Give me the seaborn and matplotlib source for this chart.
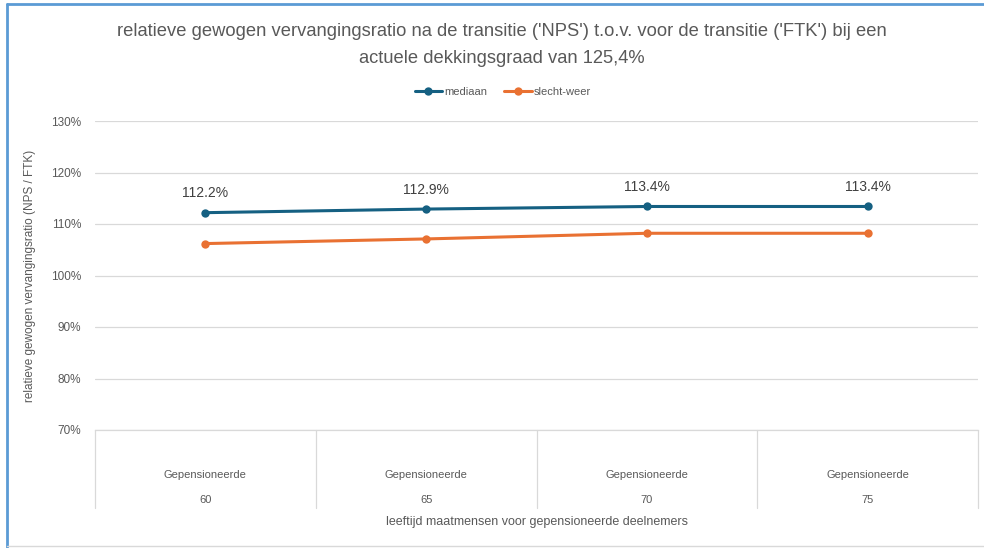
import matplotlib
matplotlib.use('Agg')
import matplotlib.pyplot as plt
import matplotlib.transforms as mtransforms
from matplotlib.lines import Line2D
from matplotlib.ticker import FuncFormatter
import numpy as np
import pandas as pd
import seaborn as sns

# ── data ──────────────────────────────────────────────────────────────────────
groups     = ['Gepensioneerde', 'Gepensioneerde', 'Gepensioneerde', 'Gepensioneerde']
ages       = ['60', '65', '70', '75']
mediaan    = [112.2, 112.9, 113.4, 113.4]
slecht     = [106.2, 107.1, 108.2, 108.2]
series     = ['mediaan', 'slecht-weer']
y_ticks    = [70, 80, 90, 100, 110, 120, 130]

TITLE  = ("relatieve gewogen vervangingsratio na de transitie ('NPS') t.o.v. voor de transitie ('FTK') bij een\n"
          "actuele dekkingsgraad van 125,4%")
YLABEL = 'relatieve gewogen vervangingsratio (NPS / FTK)'
XLABEL = 'leeftijd maatmensen voor gepensioneerde deelnemers'

COLORS = {'mediaan': '#156082', 'slecht-weer': '#E97132'}
GREY_TXT = '#595959'
GRID = '#d9d9d9'

df = pd.DataFrame({
    'pos':   list(range(len(ages))) * 2,
    'value': mediaan + slecht,
    'serie': [series[0]] * len(ages) + [series[1]] * len(ages),
})

sns.set_theme(style='white')
plt.rcParams['font.family'] = ['Liberation Sans', 'DejaVu Sans']

fig = plt.figure(figsize=(9.84, 5.48), dpi=100)
ax = fig.add_axes([95 / 984, 118 / 548, 883 / 984, 309 / 548])

sns.lineplot(data=df, x='pos', y='value', hue='serie', palette=COLORS,
             marker='o', markersize=6, markeredgewidth=0, linewidth=2.2,
             ax=ax, legend=False)

ax.set_xlim(-0.5, len(ages) - 0.5)
ax.set_ylim(y_ticks[0], y_ticks[-1])
ax.set_yticks(y_ticks)
ax.yaxis.set_major_formatter(FuncFormatter(lambda v, _: f'{v:.0f}%'))
ax.tick_params(axis='y', colors=GREY_TXT, labelsize=8.5, length=0, pad=10)
ax.set_xticks([])
ax.set_xlabel('')
ax.set_ylabel(YLABEL, color=GREY_TXT, fontsize=8.5, labelpad=11)
ax.grid(axis='y', color=GRID, linewidth=0.9)
for s in ['top', 'right', 'left']:
    ax.spines[s].set_visible(False)
ax.spines['bottom'].set_color(GRID)
ax.spines['bottom'].set_linewidth(0.9)

# data labels on the median series
for i, v in enumerate(mediaan):
    ax.annotate(f'{v:.1f}%', (i, v), xytext=(0, 9), textcoords='offset points',
                ha='center', va='bottom', fontsize=10, color='#404040')

# multi-level category axis
trans = mtransforms.blended_transform_factory(ax.transData, ax.transAxes)
box_bottom = -78 / 309
for b in np.arange(-0.5, len(ages), 1.0):
    ax.plot([b, b], [0, box_bottom], transform=trans, color=GRID,
            linewidth=0.9, clip_on=False)
for i, (g, a) in enumerate(zip(groups, ages)):
    ax.text(i, -45 / 309, g, transform=trans, ha='center', va='center',
            fontsize=8, color=GREY_TXT)
    ax.text(i, -70 / 309, a, transform=trans, ha='center', va='center',
            fontsize=8, color=GREY_TXT)
ax.text(1.5, -92 / 309, XLABEL, transform=trans, ha='center', va='center',
        fontsize=9, color=GREY_TXT)

# title and legend
fig.text(502 / 984, 1 - 45 / 548, TITLE, ha='center', va='center',
         fontsize=13.2, color=GREY_TXT, linespacing=1.7)
handles = [Line2D([0], [0], color=COLORS[s], marker='o', markersize=6,
                  markeredgewidth=0, linewidth=2.2) for s in series]
fig.legend(handles, series, loc='center', bbox_to_anchor=(503 / 984, 1 - 92 / 548),
           ncol=2, frameon=False, fontsize=8, handlelength=2.5, handletextpad=0.2,
           columnspacing=1.5, labelcolor=GREY_TXT)

# frame around the chart
fig.add_artist(Line2D([7 / 984, 7 / 984], [0, 1 - 4 / 548], color='#5b9bd5',
                      linewidth=2, transform=fig.transFigure))
fig.add_artist(Line2D([7 / 984, 1], [1 - 4 / 548, 1 - 4 / 548], color='#5b9bd5',
                      linewidth=2, transform=fig.transFigure))
fig.add_artist(Line2D([7 / 984, 1], [2 / 548, 2 / 548], color=GRID,
                      linewidth=1, transform=fig.transFigure))

fig.savefig('out.png', dpi=100)
